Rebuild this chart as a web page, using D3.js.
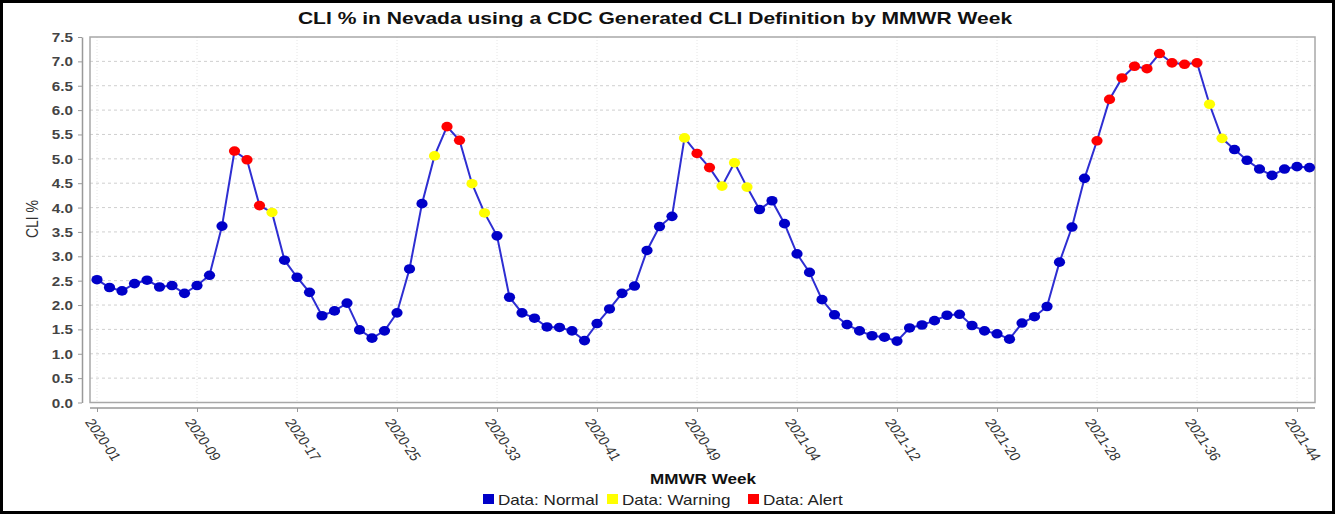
<!DOCTYPE html>
<html lang="en">
<head>
<meta charset="utf-8">
<title>CLI % in Nevada by MMWR Week</title>
<script src="https://d3js.org/d3.v7.min.js"></script>
<style>
  body { margin: 0; background: #fff; }
  svg text { font-family: "Liberation Sans", Arial, sans-serif; }
</style>
</head>
<body>
<script>
// MMWR weeks, 2020-01 .. 2021-45
var weeks = [
  "2020-01","2020-02","2020-03","2020-04","2020-05","2020-06","2020-07","2020-08","2020-09","2020-10",
  "2020-11","2020-12","2020-13","2020-14","2020-15","2020-16","2020-17","2020-18","2020-19","2020-20",
  "2020-21","2020-22","2020-23","2020-24","2020-25","2020-26","2020-27","2020-28","2020-29","2020-30",
  "2020-31","2020-32","2020-33","2020-34","2020-35","2020-36","2020-37","2020-38","2020-39","2020-40",
  "2020-41","2020-42","2020-43","2020-44","2020-45","2020-46","2020-47","2020-48","2020-49","2020-50",
  "2020-51","2020-52","2020-53","2021-01","2021-02","2021-03","2021-04","2021-05","2021-06","2021-07",
  "2021-08","2021-09","2021-10","2021-11","2021-12","2021-13","2021-14","2021-15","2021-16","2021-17",
  "2021-18","2021-19","2021-20","2021-21","2021-22","2021-23","2021-24","2021-25","2021-26","2021-27",
  "2021-28","2021-29","2021-30","2021-31","2021-32","2021-33","2021-34","2021-35","2021-36","2021-37",
  "2021-38","2021-39","2021-40","2021-41","2021-42","2021-43","2021-44","2021-45"
];

// CLI % per week
var cliValues = [
  2.52, 2.36, 2.29, 2.44, 2.51, 2.37, 2.40, 2.24, 2.40, 2.61,
  3.62, 5.16, 4.98, 4.04, 3.90, 2.92, 2.57, 2.26, 1.78, 1.88,
  2.04, 1.49, 1.32, 1.47, 1.84, 2.74, 4.08, 5.06, 5.66, 5.38,
  4.49, 3.89, 3.42, 2.16, 1.84, 1.73, 1.55, 1.54, 1.47, 1.27,
  1.62, 1.92, 2.24, 2.39, 3.12, 3.61, 3.82, 5.43, 5.11, 4.82,
  4.44, 4.92, 4.42, 3.96, 4.14, 3.67, 3.05, 2.67, 2.11, 1.80,
  1.60, 1.47, 1.37, 1.34, 1.26, 1.53, 1.59, 1.68, 1.79, 1.81,
  1.58, 1.47, 1.41, 1.30, 1.63, 1.76, 1.97, 2.88, 3.60, 4.60,
  5.37, 6.22, 6.66, 6.90, 6.85, 7.16, 6.97, 6.94, 6.97, 6.12,
  5.42, 5.19, 4.97, 4.79, 4.66, 4.79, 4.84, 4.82
];

// N = normal, W = warning, A = alert
var statusCodes = [
  "N","N","N","N","N","N","N","N","N","N",
  "N","A","A","A","W","N","N","N","N","N",
  "N","N","N","N","N","N","N","W","A","A",
  "W","W","N","N","N","N","N","N","N","N",
  "N","N","N","N","N","N","N","W","A","A",
  "W","W","W","N","N","N","N","N","N","N",
  "N","N","N","N","N","N","N","N","N","N",
  "N","N","N","N","N","N","N","N","N","N",
  "A","A","A","A","A","A","A","A","A","W",
  "W","N","N","N","N","N","N","N"
];

var tickLabels = ["2020-01","2020-09","2020-17","2020-25","2020-33","2020-41","2020-49",
                  "2021-04","2021-12","2021-20","2021-28","2021-36","2021-44"];
var yTicks = [0, 0.5, 1, 1.5, 2, 2.5, 3, 3.5, 4, 4.5, 5, 5.5, 6, 6.5, 7, 7.5];

var legendNames = ["Data: Normal", "Data: Warning", "Data: Alert"];
var legendCodes = ["N", "W", "A"];

var colors = { N: "#0000c8", W: "#ffff00", A: "#ff0000" };

var width = 1335, height = 514;
var plot = { left: 90, right: 1315, top: 37, bottom: 402.5 };
var SX = 1.22; // horizontal stretch of the text in the picture

var svg = d3.select("body").append("svg")
    .attr("width", width)
    .attr("height", height);

var x = d3.scaleLinear().domain([0, weeks.length - 1]).range([97, 1309.5]);
var y = d3.scaleLinear().domain([0, 7.5]).range([plot.bottom, plot.top]);

// outer frame
svg.append("rect")
    .attr("x", 1.5).attr("y", 1.5)
    .attr("width", width - 3).attr("height", height - 3)
    .attr("fill", "#fff").attr("stroke", "#000").attr("stroke-width", 3);

// title
var title = svg.append("text")
    .attr("text-anchor", "middle")
    .attr("font-weight", "bold")
    .attr("font-size", 16)
    .attr("fill", "#111")
    .text("CLI % in Nevada using a CDC Generated CLI Definition by MMWR Week");
var tw = title.node().getComputedTextLength();
title.attr("transform", "translate(655,24) scale(" + (715 / tw) + ",1)");

// plot background
svg.append("rect")
    .attr("x", plot.left).attr("y", plot.top)
    .attr("width", plot.right - plot.left).attr("height", plot.bottom - plot.top)
    .attr("fill", "#fff");

// vertical grid at labelled weeks
svg.append("g").selectAll("line")
    .data(tickLabels)
    .enter().append("line")
    .attr("x1", function(d) { return x(weeks.indexOf(d)); })
    .attr("x2", function(d) { return x(weeks.indexOf(d)); })
    .attr("y1", plot.top).attr("y2", plot.bottom)
    .attr("stroke", "#e6e6e6").attr("stroke-width", 1)
    .attr("stroke-dasharray", "1,2");

// horizontal grid
svg.append("g").selectAll("line")
    .data(yTicks.filter(function(d) { return d > 0 && d < 7.5; }))
    .enter().append("line")
    .attr("x1", plot.left).attr("x2", plot.right)
    .attr("y1", function(d) { return y(d); })
    .attr("y2", function(d) { return y(d); })
    .attr("stroke", "#cfcfcf").attr("stroke-width", 1)
    .attr("stroke-dasharray", "3,3");

// plot border
svg.append("rect")
    .attr("x", plot.left).attr("y", plot.top)
    .attr("width", plot.right - plot.left).attr("height", plot.bottom - plot.top)
    .attr("fill", "none").attr("stroke", "#a8a8a8").attr("stroke-width", 1.5);

// y axis
var yAxis = svg.append("g")
    .attr("transform", "translate(82,0)")
    .call(d3.axisLeft(y).tickValues(yTicks).tickFormat(d3.format(".1f"))
        .tickSize(4).tickSizeOuter(0));
yAxis.select(".domain").attr("stroke", "#999").attr("stroke-width", 1.5);
yAxis.selectAll(".tick line").attr("stroke", "#999");
yAxis.selectAll(".tick text")
    .attr("x", 0)
    .attr("dy", "0.36em")
    .attr("transform", "translate(-9,0) scale(" + SX + ",1)")
    .attr("font-size", 12.5)
    .attr("font-weight", "bold")
    .attr("fill", "#444")
    .attr("font-family", "Liberation Sans, Arial, sans-serif");

// x axis
var xAxis = svg.append("g")
    .attr("transform", "translate(0,408)")
    .call(d3.axisBottom(x)
        .tickValues(tickLabels.map(function(d) { return weeks.indexOf(d); }))
        .tickSize(4).tickSizeOuter(0)
        .tickFormat(function(i) { return weeks[i]; }));
xAxis.select(".domain").remove();
xAxis.insert("line", ":first-child")
    .attr("x1", plot.left).attr("x2", plot.right)
    .attr("stroke", "#999").attr("stroke-width", 1.5);
xAxis.selectAll(".tick line").attr("stroke", "#999");
xAxis.selectAll(".tick text")
    .attr("x", 0).attr("y", 0).attr("dy", 0)
    .attr("text-anchor", "start")
    .attr("transform", "translate(-13,14) scale(" + SX + ",1) rotate(60)")
    .attr("font-size", 12.5)
    .attr("fill", "#333")
    .attr("font-family", "Liberation Sans, Arial, sans-serif");

// y axis title
svg.append("text")
    .attr("transform", "translate(38,219) rotate(-90) scale(1," + SX + ")")
    .attr("text-anchor", "middle")
    .attr("font-size", 14)
    .attr("fill", "#333")
    .text("CLI %");

// x axis title
svg.append("text")
    .attr("transform", "translate(703,484) scale(" + SX + ",1)")
    .attr("text-anchor", "middle")
    .attr("font-size", 14)
    .attr("font-weight", "bold")
    .attr("fill", "#111")
    .text("MMWR Week");

// line
var points = cliValues.map(function(v, i) { return { i: i, v: v, s: statusCodes[i] }; });

svg.append("path")
    .datum(points)
    .attr("fill", "none")
    .attr("stroke", "#2e2ed2")
    .attr("stroke-width", 2)
    .attr("d", d3.line()
        .x(function(d) { return x(d.i); })
        .y(function(d) { return y(d.v); }));

svg.append("g").selectAll("ellipse")
    .data(points)
    .enter().append("ellipse")
    .attr("cx", function(d) { return x(d.i); })
    .attr("cy", function(d) { return y(d.v); })
    .attr("rx", 5.6)
    .attr("ry", 4.8)
    .attr("fill", function(d) { return colors[d.s]; });

// legend
var legendX = [483, 607, 748];
var legend = svg.append("g").selectAll("g")
    .data(legendNames)
    .enter().append("g")
    .attr("transform", function(d, i) { return "translate(" + legendX[i] + ",0)"; });
legend.append("rect")
    .attr("x", 0).attr("y", 494)
    .attr("width", 11).attr("height", 10)
    .attr("fill", function(d, i) { return colors[legendCodes[i]]; });
legend.append("text")
    .attr("transform", "translate(15,505) scale(" + SX + ",1)")
    .attr("font-size", 14)
    .attr("fill", "#222")
    .text(function(d) { return d; });
</script>
</body>
</html>
